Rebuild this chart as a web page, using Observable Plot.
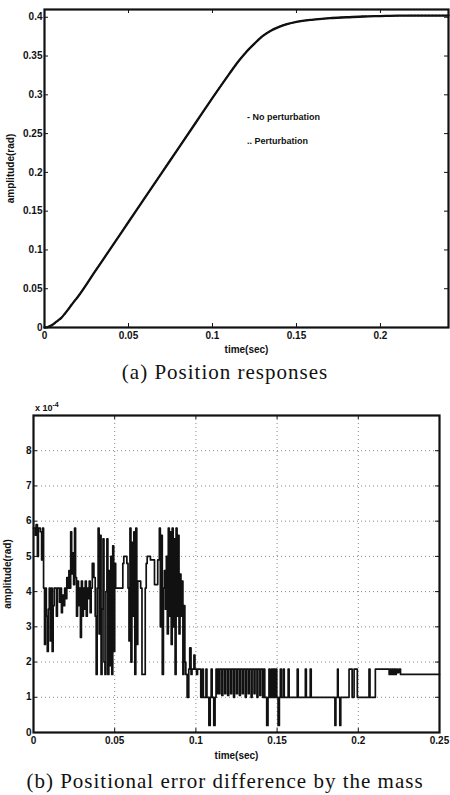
<!DOCTYPE html>
<html><head><meta charset="utf-8">
<script src="https://cdn.jsdelivr.net/npm/d3@7"></script>
<script src="https://cdn.jsdelivr.net/npm/@observablehq/plot@0.6"></script>
<style>
body{margin:0;background:#fff;}
#wrap{position:relative;width:450px;height:795px;overflow:hidden;background:#fff;font-family:"Liberation Sans",Arial,sans-serif;color:#111;}
#wrap svg{position:absolute;left:0;}
.cap{position:absolute;left:0;width:450px;text-align:center;font-family:"Liberation Serif","Times New Roman",serif;font-size:21px;letter-spacing:1px;line-height:24px;color:#111;white-space:nowrap;}
.leg{position:absolute;font-size:9px;font-weight:bold;color:#111;white-space:nowrap;}
</style></head><body><div id="wrap"></div>
<script>
// ---------- panel (a): position responses ----------
const posT = [0,0.002,0.004,0.006,0.008,0.010,0.012,0.014,0.016,0.018,0.020,0.030,0.040,0.050,0.060,0.070,0.080,0.090,0.100,0.110,0.115,0.120,0.125,0.130,0.135,0.140,0.150,0.160,0.170,0.180,0.190,0.200,0.210,0.220,0.230,0.2405];
const posNoPert = [0,0.0006,0.0025,0.0055,0.009,0.0125,0.0175,0.023,0.029,0.0345,0.040,0.072,0.104,0.136,0.168,0.200,0.232,0.264,0.296,0.327,0.342,0.355,0.366,0.376,0.383,0.388,0.394,0.397,0.399,0.400,0.401,0.4015,0.402,0.402,0.402,0.402];
const posPert   = [0,0.0006,0.0025,0.0055,0.009,0.0125,0.0175,0.023,0.029,0.0345,0.040,0.072,0.104,0.136,0.168,0.200,0.232,0.264,0.296,0.327,0.342,0.355,0.366,0.376,0.383,0.388,0.394,0.397,0.399,0.400,0.401,0.4015,0.402,0.4022,0.4022,0.4022];
const xTicksA = [0,0.05,0.1,0.15,0.2];
const yTicksA = [0,0.05,0.1,0.15,0.2,0.25,0.3,0.35,0.4];
const legendA = ["- No perturbation", ".. Perturbation"];
const captionA = "(a)  Position responses";

// ---------- panel (b): positional error difference (x 1e-4 rad) ----------
const errT = [0,0.0010,0.0016,0.0024,0.0030,0.0042,0.0050,0.0056,0.0062,0.0068,0.0073,0.0079,0.0085,0.0091,0.0097,0.0103,0.0109,0.0115,0.0121,0.0127,0.0141,0.0147,0.0160,0.0166,0.0172,0.0178,0.0186,0.0192,0.0199,0.0205,0.0212,0.0218,0.0224,0.0229,0.0235,0.0241,0.0247,0.0253,0.0259,0.0265,0.0271,0.0277,0.0283,0.0289,0.0295,0.0301,0.0307,0.0313,0.0319,0.0325,0.0331,0.0337,0.0343,0.0349,0.0355,0.0362,0.0372,0.0380,0.0386,0.0392,0.0398,0.0404,0.0410,0.0416,0.0422,0.0428,0.0434,0.0440,0.0446,0.0452,0.0458,0.0464,0.0470,0.0476,0.0482,0.0488,0.0494,0.0500,0.0506,0.0550,0.0556,0.0575,0.0582,0.0588,0.0594,0.0600,0.0606,0.0612,0.0618,0.0624,0.0630,0.0636,0.0642,0.0660,0.0668,0.0688,0.0694,0.0700,0.0720,0.0745,0.0765,0.0775,0.0781,0.0787,0.0793,0.0800,0.0806,0.0812,0.0818,0.0824,0.0830,0.0836,0.0842,0.0848,0.0854,0.0860,0.0866,0.0872,0.0878,0.0884,0.0890,0.0896,0.0902,0.0908,0.0914,0.0920,0.0926,0.0932,0.0938,0.0946,0.0956,0.0962,0.0970,0.0976,0.0988,0.0994,0.1004,0.1010,0.1030,0.1040,0.1046,0.1062,0.1068,0.1080,0.1088,0.1094,0.1100,0.1110,0.1118,0.1124,0.1130,0.1136,0.1142,0.1148,0.1160,0.1166,0.1178,0.1184,0.1196,0.1202,0.1214,0.1220,0.1232,0.1238,0.1250,0.1256,0.1268,0.1274,0.1286,0.1292,0.1304,0.1310,0.1322,0.1328,0.1340,0.1346,0.1358,0.1364,0.1376,0.1382,0.1394,0.1400,0.1412,0.1418,0.1424,0.1436,0.1444,0.1450,0.1456,0.1466,0.1472,0.1480,0.1486,0.1492,0.1498,0.1506,0.1514,0.1520,0.1526,0.1538,0.1544,0.1568,0.1574,0.1624,0.1630,0.1674,0.1680,0.1704,0.1710,0.1856,0.1862,0.1872,0.1876,0.1886,0.1892,0.1943,0.1962,0.1974,0.1994,0.2066,0.2072,0.2105,0.2190,0.2196,0.2202,0.2208,0.2214,0.2220,0.2228,0.2234,0.2240,0.2250,0.2260,0.2500];
const errV = [5.8,5.6,5.9,5.0,5.8,5.7,4.9,5.8,4.1,2.5,4.1,3.3,2.3,3.5,4.1,2.6,4.1,2.3,3.6,4.1,3.3,4.1,3.7,4.1,3.4,3.9,3.6,4.1,3.8,4.4,4.1,4.6,4.1,5.7,4.5,5.1,4.2,5.8,4.4,3.3,4.3,3.6,4.1,2.7,4.3,3.3,4.1,3.5,4.3,3.3,4.1,3.8,4.3,3.4,4.1,4.8,4.4,3.3,1.65,4.1,5.8,2.8,5.6,1.65,3.5,5.5,2.0,1.65,4.0,5.5,1.65,4.6,1.9,5.0,1.65,5.3,2.3,4.8,4.1,4.8,5.0,4.8,4.1,2.6,5.8,2.0,5.4,3.3,5.7,1.65,5.8,2.5,4.3,4.1,1.65,4.1,4.8,5.0,4.9,4.2,4.9,5.8,3.0,5.6,1.65,4.1,4.6,3.5,5.0,2.8,5.8,3.3,5.7,2.5,5.8,3.0,5.5,1.65,5.8,3.3,5.6,2.8,4.5,3.3,4.3,1.65,3.6,2.0,1.65,1.0,1.8,2.4,1.65,1.8,2.2,1.8,1.65,1.8,1.0,1.8,1.0,1.8,1.0,0.2,1.0,1.8,1.0,0.2,1.0,1.8,1.1,1.8,1.1,1.8,1.05,1.8,1.1,1.8,1.05,1.8,1.1,1.8,1.0,1.8,1.1,1.8,1.05,1.8,1.1,1.8,1.0,1.8,1.1,1.8,1.0,1.8,1.1,1.8,1.0,1.8,1.05,1.8,1.0,1.8,1.0,0.2,1.0,1.8,1.0,1.8,1.0,1.8,1.0,1.8,1.0,0.2,1.0,1.8,1.0,1.8,1.0,1.8,1.0,1.8,1.0,1.8,1.0,1.8,1.0,0.2,1.0,1.8,1.0,0.2,1.0,1.8,1.0,1.8,1.0,1.8,1.0,1.8,1.65,1.8,1.65,1.8,1.65,1.8,1.65,1.8,1.7,1.8,1.65,1.65];
const xTicksB = [0,0.05,0.1,0.15,0.2,0.25];
const yTicksB = [0,1,2,3,4,5,6,7,8];
const captionB = "(b)  Positional error difference by the mass";

const posA = posT.map((t,i)=>({t, a: posNoPert[i], b: posPert[i]}));
const errB = errT.map((t,i)=>({t, v: errV[i]}));

const wrap = document.getElementById("wrap");
const axisStyle = {fontFamily:"Liberation Sans, Arial, sans-serif", fontSize:"10px", fontWeight:"bold", color:"#111", background:"transparent", overflow:"visible"};

function inTicks(xT, yT, pw, ph, len){
  return [
    Plot.tickX(xT, {x: d=>d, insetTop: ph-len, stroke:"#111"}),
    Plot.tickX(xT, {x: d=>d, insetBottom: ph-len, stroke:"#111"}),
    Plot.tickY(yT, {y: d=>d, insetRight: pw-len, stroke:"#111"}),
    Plot.tickY(yT, {y: d=>d, insetLeft: pw-len, stroke:"#111"})
  ];
}

// Panel A
{
  const W=450, H=357, mL=44, mR=2, mT=9, mB=30;
  const pw=W-mL-mR, ph=H-mT-mB;
  const p = Plot.plot({
    width:W, height:H, marginLeft:mL, marginRight:mR, marginTop:mT, marginBottom:mB,
    style: axisStyle,
    x:{domain:[0,0.2405]}, y:{domain:[0,0.41]},
    marks:[
      Plot.axisX({ticks:xTicksA, tickSize:0, tickPadding:4, tickFormat:d=>String(d), label:"time(sec)", labelAnchor:"center", labelOffset:25, labelArrow:"none"}),
      Plot.axisY({ticks:yTicksA, tickSize:0, tickPadding:2, tickFormat:d=>String(d), label:"amplitude(rad)", labelAnchor:"center", labelOffset:38, labelArrow:"none"}),
      ...inTicks(xTicksA, yTicksA, pw, ph, 4),
      Plot.line(posA, {x:"t", y:"a", stroke:"#111", strokeWidth:2.3, curve:"monotone-x"}),
      Plot.line(posA, {x:"t", y:"b", stroke:"#111", strokeWidth:1.4, strokeDasharray:"1.5,2", curve:"monotone-x"}),
      Plot.frame({stroke:"#111", strokeWidth:2.2})
    ]
  });
  p.style.top = "0px";
  wrap.appendChild(p);
}
// legend A
legendA.forEach((s,i)=>{
  const d=document.createElement("div"); d.className="leg"; d.textContent=s;
  d.style.left="247px"; d.style.top=(112+i*24)+"px"; wrap.appendChild(d);
});
{
  const c=document.createElement("div"); c.className="cap"; c.textContent=captionA; c.style.top="360px"; wrap.appendChild(c);
}

// Panel B
{
  const W=450, H=372, mL=33, mR=11, mT=25, mB=30;
  const pw=W-mL-mR, ph=H-mT-mB;
  const p = Plot.plot({
    width:W, height:H, marginLeft:mL, marginRight:mR, marginTop:mT, marginBottom:mB,
    style: axisStyle,
    x:{domain:[0,0.25]}, y:{domain:[0,9]},
    marks:[
      Plot.gridX(xTicksB.slice(1,-1), {stroke:"#555", strokeOpacity:0.7, strokeWidth:1, strokeDasharray:"1,3"}),
      Plot.gridY(yTicksB.slice(1), {stroke:"#555", strokeOpacity:0.7, strokeWidth:1, strokeDasharray:"1,3"}),
      Plot.axisX({ticks:xTicksB, tickSize:0, tickPadding:4, tickFormat:d=>String(d), label:"time(sec)", labelAnchor:"center", labelOffset:26, labelArrow:"none"}),
      Plot.axisY({ticks:yTicksB, tickSize:0, tickPadding:2, tickFormat:d=>String(d), label:"amplitude(rad)", labelAnchor:"center", labelOffset:30, labelArrow:"none"}),
      ...inTicks(xTicksB, yTicksB, pw, ph, 4),
      Plot.line(errB, {x:"t", y:"v", stroke:"#111", strokeWidth:1.7, curve:"step-after"}),
      Plot.frame({stroke:"#111", strokeWidth:2.2})
    ]
  });
  p.style.top = "390px";
  wrap.appendChild(p);
}
{
  const d=document.createElement("div"); d.className="leg"; d.innerHTML="x 10<sup style='font-size:7px'>-4</sup>";
  d.style.left="35px"; d.style.top="401px"; wrap.appendChild(d);
  const c=document.createElement("div"); c.className="cap"; c.textContent=captionB; c.style.top="769px"; wrap.appendChild(c);
}
</script>
</body></html>
